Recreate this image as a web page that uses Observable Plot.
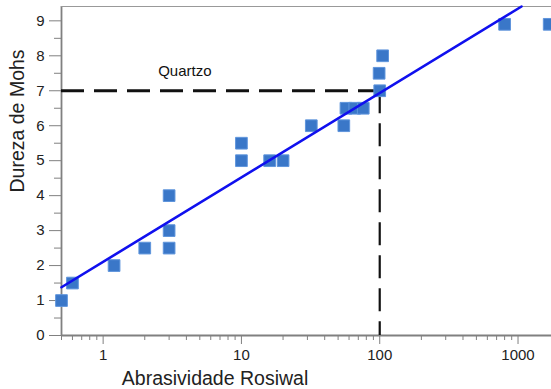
<!DOCTYPE html>
<html>
<head>
<meta charset="utf-8">
<script src="https://cdn.jsdelivr.net/npm/d3@7"></script>
<script src="https://cdn.jsdelivr.net/npm/@observablehq/plot@0.6"></script>
<style>
  html, body { margin: 0; padding: 0; background: #fff; overflow: hidden; }
  #chart svg { display: block; }
</style>
</head>
<body>
<div id="chart"></div>
<script>
// Data
const abrasividade = [0.5, 0.6, 1.2, 2, 3, 3, 3, 10, 10, 16, 20, 32, 55, 57, 66, 76, 100, 99, 105, 800, 1680];
const dureza       = [1, 1.5, 2, 2.5, 3, 2.5, 4, 5.5, 5, 5, 5, 6, 6, 6.5, 6.5, 6.5, 7, 7.5, 8, 8.9, 8.9];

// Fitted regression line endpoints
const fitX = [0.5, 1060];
const fitY = [1.38, 9.41];

// Quartz reference
const quartzoX = 100;
const quartzoY = 7;
const quartzoLabel = "Quartzo";

// Axis ticks and domains
const xDomain = [0.5, 1746];
const yDomain = [0, 9.41];
const xMajorTicks = [1, 10, 100, 1000];
const xMinorTicks = [0.5, 0.6, 0.7, 0.8, 0.9, 2, 3, 4, 5, 6, 7, 8, 9, 20, 30, 40, 50, 60, 70, 80, 90, 200, 300, 400, 500, 600, 700, 800, 900];
const yMajorTicks = [0, 1, 2, 3, 4, 5, 6, 7, 8, 9];
const yMinorTicks = [0.5, 1.5, 2.5, 3.5, 4.5, 5.5, 6.5, 7.5, 8.5];

const xTitle = "Abrasividade Rosiwal";
const yTitle = "Dureza de Mohs";

const points = abrasividade.map((x, i) => ({x, y: dureza[i]}));
const fit = fitX.map((x, i) => ({x, y: fitY[i]}));

const axisColor = "#808080";
const font = "Liberation Sans, Arial, sans-serif";

const chart = Plot.plot({
  width: 551,
  height: 389,
  marginLeft: 61,
  marginRight: 0,
  marginTop: 6,
  marginBottom: 54,
  style: {fontFamily: font, background: "white", color: "#222"},
  x: {type: "log", domain: xDomain},
  y: {domain: yDomain},
  marks: [
    // frame lines
    Plot.ruleX([xDomain[0]], {stroke: axisColor, strokeWidth: 1.8}),
    Plot.ruleY([yDomain[0]], {stroke: axisColor, strokeWidth: 1.8}),
    Plot.ruleY([yDomain[1]], {stroke: "#999", strokeWidth: 1.2}),
    // axes
    Plot.axisX({ticks: xMajorTicks, tickSize: 9, tickPadding: 5, tickFormat: d => String(d), label: null, fontSize: 15, stroke: axisColor, fill: "#222"}),
    Plot.axisX({ticks: xMinorTicks, tickSize: 5, tickFormat: () => "", label: null, stroke: axisColor}),
    Plot.axisY({ticks: yMajorTicks, tickSize: 12, tickPadding: 5, label: null, fontSize: 15, stroke: axisColor, fill: "#222"}),
    Plot.axisY({ticks: yMinorTicks, tickSize: 7, tickFormat: () => "", label: null, stroke: axisColor}),
    // axis titles
    Plot.text([xTitle], {text: d => d, frameAnchor: "bottom", dx: -91.5, dy: 43, fontSize: 19.5, fill: "#222", lineAnchor: "middle"}),
    Plot.text([yTitle], {text: d => d, frameAnchor: "left", rotate: -90, dx: -44, dy: 21.5, fontSize: 19.5, fill: "#222", lineAnchor: "middle"}),
    // quartz dashed guides
    Plot.ruleY([quartzoY], {x1: xDomain[0], x2: quartzoX, stroke: "#111", strokeWidth: 2.8, strokeDasharray: "23,10"}),
    Plot.ruleX([quartzoX], {y1: quartzoY, y2: 0, stroke: "#111", strokeWidth: 2.2, strokeDasharray: "23,10"}),
    Plot.text([quartzoLabel], {x: 2.5, y: 7.57, text: d => d, textAnchor: "start", fontSize: 15, fill: "#111"}),
    // data points
    Plot.dot(points, {x: "x", y: "y", symbol: "square", r: 6.6, fill: "#3a77c8", stroke: "#5f95dc", strokeWidth: 1}),
    // regression line
    Plot.line(fit, {x: "x", y: "y", stroke: "#1010ee", strokeWidth: 2.6})
  ]
});

document.getElementById("chart").appendChild(chart);
</script>
</body>
</html>
